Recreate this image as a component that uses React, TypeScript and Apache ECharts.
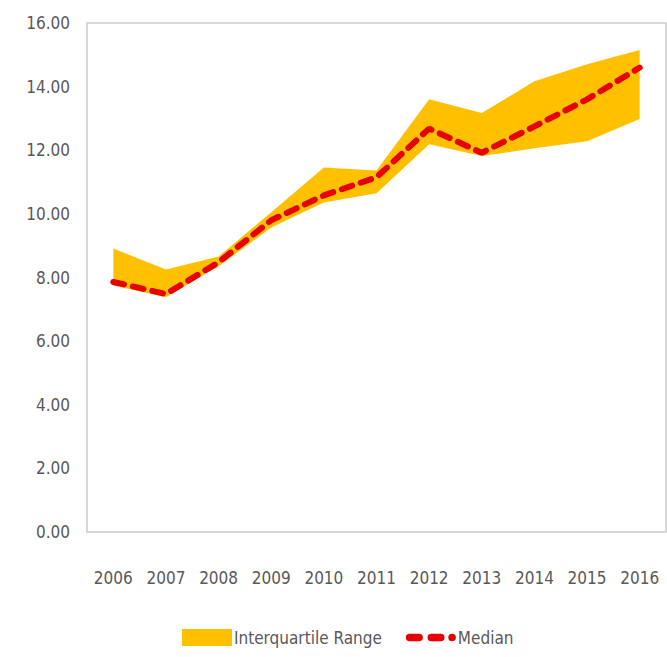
import React, { useEffect, useRef } from "react";
import * as echarts from "echarts";

const years = ["2006", "2007", "2008", "2009", "2010", "2011", "2012", "2013", "2014", "2015", "2016"];
const q1 = [7.75, 7.38, 8.35, 9.57, 10.36, 10.65, 12.19, 11.82, 12.06, 12.28, 12.98];
const q3 = [8.91, 8.25, 8.66, 10.05, 11.46, 11.36, 13.6, 13.17, 14.17, 14.7, 15.15];
const median = [7.86, 7.48, 8.48, 9.8, 10.58, 11.15, 12.68, 11.92, 12.75, 13.6, 14.6];
const yTicks = { min: 0, max: 16, interval: 2 };

const FONT = "'DejaVu Sans Condensed', 'Liberation Sans Narrow', sans-serif";
const DASH_ICON =
  "path://M4,0 h10 a4,4 0 0 1 0,8 h-10 a4,4 0 0 1 0,-8z M27,0 h10 a4,4 0 0 1 0,8 h-10 a4,4 0 0 1 0,-8z M49,0 a4,4 0 0 1 0,8 a4,4 0 0 1 0,-8z";

export default function App() {
  const ref = useRef<HTMLDivElement>(null);
  useEffect(() => {
    document.body.style.margin = "0";
    if (!ref.current) return;
    const chart = echarts.init(ref.current, null, { renderer: "svg" });
    const spread = q3.map((v, i) => +(v - q1[i]).toFixed(3));
    chart.setOption({
      animation: false,
      grid: {
        left: 87,
        right: 1,
        top: 23,
        bottom: 125,
        show: true,
        borderColor: "#cccccc",
        borderWidth: 1.5,
      },
      legend: {
        bottom: 6,
        left: 177,
        itemWidth: 50,
        itemHeight: 17,
        itemGap: 24,
        textStyle: { color: "#595959", fontSize: 17, fontFamily: FONT, padding: [0, 0, 0, -3] },
        data: [
          { name: "Interquartile Range", icon: "rect" },
          { name: "Median", icon: DASH_ICON, itemStyle: { color: "#E60000" } },
        ],
      },
      xAxis: {
        type: "category",
        data: years,
        boundaryGap: true,
        axisLine: { show: false },
        axisTick: { show: false },
        axisLabel: { color: "#595959", fontSize: 17, fontFamily: FONT, margin: 37 },
      },
      yAxis: {
        type: "value",
        min: yTicks.min,
        max: yTicks.max,
        interval: yTicks.interval,
        splitLine: { show: false },
        axisLine: { show: false },
        axisTick: { show: false },
        axisLabel: {
          color: "#595959",
          fontSize: 17,
          fontFamily: FONT,
          margin: 17,
          formatter: (v: number) => v.toFixed(2),
        },
      },
      series: [
        {
          name: "lower",
          type: "line",
          stack: "band",
          data: q1,
          symbol: "none",
          lineStyle: { opacity: 0 },
          silent: true,
        },
        {
          name: "Interquartile Range",
          type: "line",
          stack: "band",
          data: spread,
          symbol: "none",
          lineStyle: { opacity: 0 },
          itemStyle: { color: "#FFC000" },
          areaStyle: { color: "#FFC000", opacity: 1 },
        },
        {
          name: "Median",
          type: "line",
          data: median,
          symbol: "none",
          itemStyle: { color: "#E60000" },
          lineStyle: { color: "#E60000", width: 6, type: [11, 9], cap: "round" },
          z: 5,
        },
      ],
    });
    return () => chart.dispose();
  }, []);
  return <div ref={ref} style={{ width: 667, height: 657 }} />;
}
